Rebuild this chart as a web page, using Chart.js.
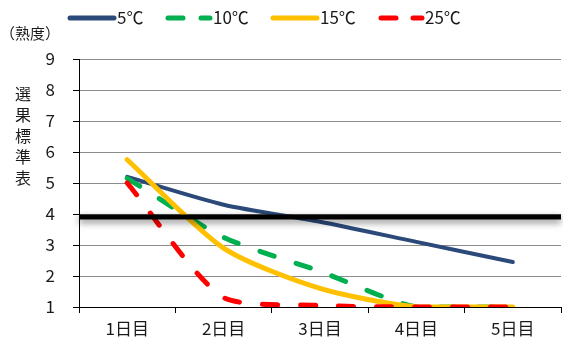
<!DOCTYPE html>
<html>
<head>
<meta charset="utf-8">
<script src="https://cdn.jsdelivr.net/npm/chart.js@4/dist/chart.umd.min.js"></script>
<style>
  html, body { margin: 0; padding: 0; background: #fff; }
  #wrap { width: 563px; height: 351px; }
</style>
</head>
<body>
<div id="wrap"><canvas id="c" width="563" height="351"></canvas></div>
<script>
// Ripening degree per day for each storage temperature
const categories = ['1日目', '2日目', '3日目', '4日目', '5日目'];
const seriesNames = ['5℃', '10℃', '15℃', '25℃'];
const temp5 = [5.2, 4.3, 3.75, 3.1, 2.45];
const temp10 = [5.15, 3.25, 2.15, 1.0, 1.0];
const temp15 = [5.75, 2.9, 1.6, 1.0, 1.0];
const temp25 = [5.0, 1.3, 1.05, 1.0, 1.0];
const yMin = 1, yMax = 9, yStep = 1;
const standardValue = 3.9;            // sorting standard line
const yTitle = '（熟度）';
const sideLabel = '選果標準表';

const FONT = '"Noto Sans CJK JP", "Noto Sans", sans-serif';
const colors = ['#2B4A7A', '#00B050', '#FFC000', '#FF0000'];
const dashed = [false, true, false, true];
const widths = [4, 5, 5, 5];

const allSeries = [temp5, temp10, temp15, temp25];
const datasets = allSeries.map((vals, i) => ({
  label: seriesNames[i],
  data: vals,
  borderColor: colors[i],
  backgroundColor: colors[i],
  borderWidth: widths[i],
  borderDash: dashed[i] ? [15, 23] : [],
  borderCapStyle: 'round',
  borderJoinStyle: 'round',
  pointRadius: 0,
  tension: 0.25,
  fill: false,
  order: 4 - i
}));

const decor = {
  id: 'decor',
  afterDatasetsDraw(chart) {
    const { ctx, chartArea, scales } = chart;
    const y = scales.y.getPixelForValue(standardValue);
    ctx.save();
    ctx.shadowColor = 'rgba(0,0,0,0.5)';
    ctx.shadowBlur = 7;
    ctx.shadowOffsetY = 3;
    ctx.strokeStyle = '#000';
    ctx.lineWidth = 5;
    ctx.beginPath();
    ctx.moveTo(chartArea.left, y);
    ctx.lineTo(chartArea.right, y);
    ctx.stroke();
    ctx.restore();
  },
  afterDraw(chart) {
    const { ctx } = chart;
    ctx.save();
    // legend
    const items = [
      { x: 70, w: 44, dash: null },
      { x: 168, w: 42, dash: [15, 18] },
      { x: 273, w: 44, dash: null },
      { x: 381, w: 41, dash: [15, 17] }
    ];
    const ly = 18;
    items.forEach((it, i) => {
      ctx.strokeStyle = colors[i];
      ctx.lineWidth = 5;
      ctx.lineCap = 'round';
      ctx.setLineDash(it.dash || []);
      ctx.beginPath();
      ctx.moveTo(it.x, ly);
      ctx.lineTo(it.x + it.w, ly);
      ctx.stroke();
      ctx.setLineDash([]);
      ctx.fillStyle = '#1a1a1a';
      ctx.font = '17px ' + FONT;
      ctx.textAlign = 'left';
      ctx.textBaseline = 'middle';
      ctx.fillText(seriesNames[i], it.x + it.w + 3, ly);
    });
    // axis title
    ctx.font = '15px ' + FONT;
    ctx.fillStyle = '#1a1a1a';
    ctx.textAlign = 'left';
    ctx.textBaseline = 'middle';
    ctx.fillText(yTitle, 0, 33);
    // vertical label
    ctx.font = '16px ' + FONT;
    ctx.textAlign = 'center';
    [...sideLabel].forEach((ch, k) => {
      ctx.fillText(ch, 23, 94 + k * 21);
    });
    ctx.restore();
  }
};

new Chart(document.getElementById('c'), {
  type: 'line',
  data: { labels: categories, datasets },
  plugins: [decor],
  options: {
    responsive: false,
    devicePixelRatio: 1,
    animation: false,
    layout: { padding: { top: 59, left: 0, right: 2, bottom: 0 } },
    plugins: { legend: { display: false }, tooltip: { enabled: false } },
    scales: {
      x: {
        offset: true,
        grid: { offset: true, drawOnChartArea: false, drawTicks: true, tickLength: 6, color: '#000' },
        border: { color: '#000', width: 1 },
        ticks: { color: '#1a1a1a', font: { size: 17, family: FONT }, padding: 5, maxRotation: 0 },
        afterFit(s) { s.height = 44; }
      },
      y: {
        min: yMin, max: yMax,
        grid: { color: '#8c8c8c', lineWidth: 1, tickLength: 6, tickColor: '#000' },
        border: { color: '#000', width: 1 },
        ticks: { stepSize: yStep, color: '#1a1a1a', font: { size: 17, family: FONT }, padding: 18 },
        afterFit(s) { s.width = 79; }
      }
    }
  }
});
</script>
</body>
</html>
